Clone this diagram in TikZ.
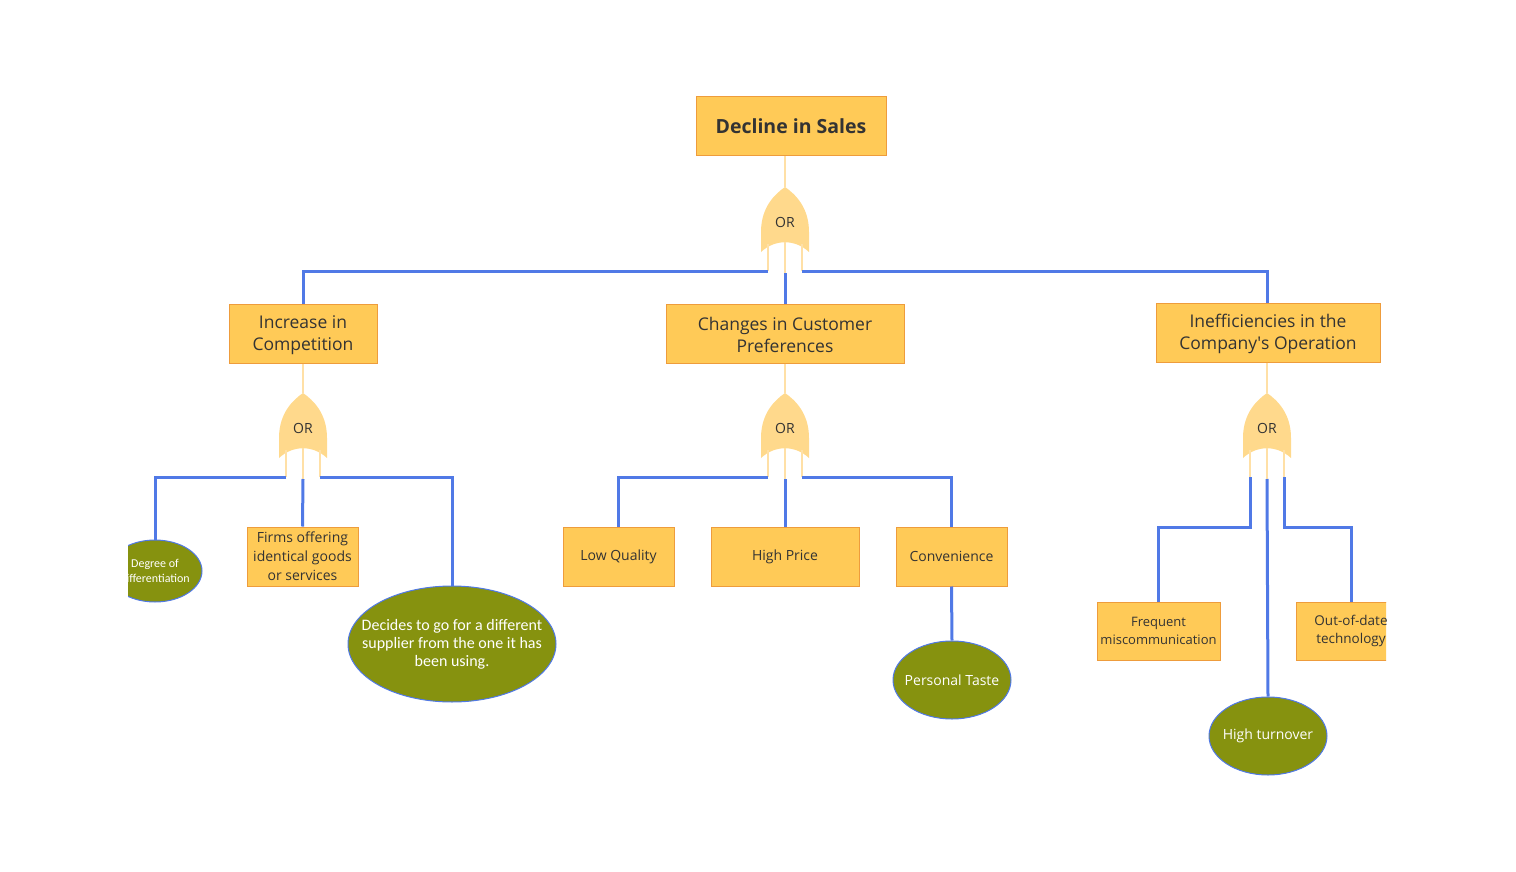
\documentclass[tikz,border=0pt]{standalone}
\usepackage{fontspec}
\setmainfont{Open Sans}
\newfontfamily\calfont{Carlito}
\usetikzlibrary{shapes.geometric}
\definecolor{boxfill}{HTML}{FFCA57}
\definecolor{boxborder}{HTML}{EE9C3C}
\definecolor{gatefill}{HTML}{FFD98C}
\definecolor{paleline}{HTML}{FFE0A6}
\definecolor{bluel}{HTML}{5079E6}
\definecolor{olive}{HTML}{86920F}
\definecolor{textdark}{HTML}{333333}
\tikzset{
  box/.style={draw=boxborder, fill=boxfill, line width=1pt, inner sep=0pt, align=center, text=textdark},
  leaf/.style={ellipse, draw=bluel, fill=olive, line width=1pt, inner sep=0pt},
  leaftext/.style={text=white, align=center, inner sep=0pt},
  conn/.style={draw=bluel, line width=3pt},
  pale/.style={draw=paleline, line width=1.5pt},
  gatetext/.style={text=textdark, font=\fontsize{14}{16}\selectfont},
}
\newcommand\orgate[3]{% name, cx, b
  \fill[gatefill] (#2-24,#3) -- (#2-24,#3-20) .. controls (#2-24,#3-45) and (#2-10,#3-58) .. (#2,#3-65)
     .. controls (#2+10,#3-58) and (#2+24,#3-45) .. (#2+24,#3-20) -- (#2+24,#3)
     .. controls (#2+10,#3-13) and (#2-10,#3-13) .. cycle;
  \node[gatetext] (#1) at (#2,#3-30) {OR};
  \coordinate (#1-top) at (#2,#3-65);
  \coordinate (#1-l) at (#2-17,#3-8);
  \coordinate (#1-m) at (#2,#3-10);
  \coordinate (#1-r) at (#2+17,#3-8);
  \coordinate (#1-lb) at (#2-17,#3+19);
  \coordinate (#1-mb) at (#2,#3+21);
  \coordinate (#1-rb) at (#2+17,#3+19);
  \draw[pale] (#1-l) -- (#1-lb);
  \draw[pale] (#1-m) -- (#1-mb);
  \draw[pale] (#1-r) -- (#1-rb);
}
\begin{document}
\begin{tikzpicture}[x=1pt,y=-1pt]
\useasboundingbox (0,0) rectangle (1516,872);
\begin{scope}
\clip (128,0) rectangle (1386,872);
% gates
\orgate{g1}{785}{252}
\orgate{g2}{303}{458}
\orgate{g3}{785}{458}
\orgate{g4}{1267}{458}
% boxes
\node[box, minimum width=190pt, minimum height=59pt, font=\fontsize{19.5}{24}\selectfont\bfseries] (top) at (791,126.5) {Decline in Sales};
\node[box, minimum width=148pt, minimum height=59pt, font=\fontsize{17.5}{22.5}\selectfont] (n1) at (303,333.5) {\strut Increase in\\Competition};
\node[box, minimum width=238pt, minimum height=59pt, font=\fontsize{17.5}{22.5}\selectfont] (n2) at (785,333.5) {\strut Changes in Customer\\Preferences};
\node[box, minimum width=224pt, minimum height=59pt, font=\fontsize{17.5}{22.5}\selectfont] (n3) at (1268,332.5) {\strut Inefficiencies in the\\Company\textquotesingle s Operation};
\node[box, minimum width=111pt, minimum height=59pt, font=\fontsize{14}{19}\selectfont] (firms) at (302.5,556.5) {Firms offering\\identical goods\\or services};
\node[box, minimum width=111pt, minimum height=59pt, font=\fontsize{14}{19}\selectfont] (lowq) at (618.5,556.5) {Low Quality};
\node[box, minimum width=148pt, minimum height=59pt, font=\fontsize{14}{19}\selectfont] (hprice) at (785,556.5) {High Price};
\node[box, minimum width=111pt, minimum height=59pt, font=\fontsize{14}{19}\selectfont] (conv) at (951.5,556.5) {Convenience};
\node[box, minimum width=123pt, minimum height=58pt, font=\fontsize{13}{18}\selectfont] (freq) at (1158.5,631) {Frequent\\miscommunication};
\node[box, minimum width=110pt, minimum height=58pt, font=\fontsize{13.5}{18}\selectfont] (ood) at (1351,631) {Out-of-date\\technology};
% leaves
\node[leaf, minimum width=94pt, minimum height=62pt] (deg) at (155,571) {};
\node[leaftext, font=\calfont\fontsize{12}{15}\selectfont] (degt) at (deg.center) {Degree of\\differentiation};
\node[leaf, minimum width=208pt, minimum height=116pt] (dec) at (452,644) {};
\node[leaftext, font=\calfont\fontsize{16}{18}\selectfont] (dect) at (dec.center) {Decides to go for a different\\supplier from the one it has\\been using.};
\node[leaf, minimum width=118pt, minimum height=78pt] (pt) at (952,680) {};
\node[leaftext, font=\fontsize{14}{18}\selectfont] (ptt) at (pt.center) {Personal Taste};
\node[leaf, minimum width=118pt, minimum height=78pt] (ht) at (1268,736) {};
\node[leaftext, font=\fontsize{14}{18}\selectfont] (htt) at (ht.center) {High turnover};
% pale links from boxes to gates
\draw[pale] (top.south -| g1-top) -- (g1-top);
\draw[pale] (n1.south) -- (g2-top);
\draw[pale] (n2.south) -- (g3-top);
\draw[pale] (n3.south -| g4-top) -- (g4-top);
% blue connectors
\draw[conn] (g1-lb) -| (n1.north);
\draw[conn] (g1-mb) -- (n2.north);
\draw[conn] (g1-rb) -| (n3.north -| g4-top);
\draw[conn] (g2-lb) -| (deg.north);
\draw[conn] (g2-mb) -- (firms.north);
\draw[conn] (g2-rb) -| (dec.north);
\draw[conn] (g3-lb) -| (lowq.north);
\draw[conn] (g3-mb) -- (hprice.north);
\draw[conn] (g3-rb) -| (conv.north);
\draw[conn] (conv.south) -- (pt.north);
\draw[conn] (g4-lb) -- ++(0,50) -| (freq.north);
\draw[conn] (g4-mb) -- (ht.north);
\draw[conn] (g4-rb) -- ++(0,50) -| (ood.north);
\end{scope}
\end{tikzpicture}
\end{document}
